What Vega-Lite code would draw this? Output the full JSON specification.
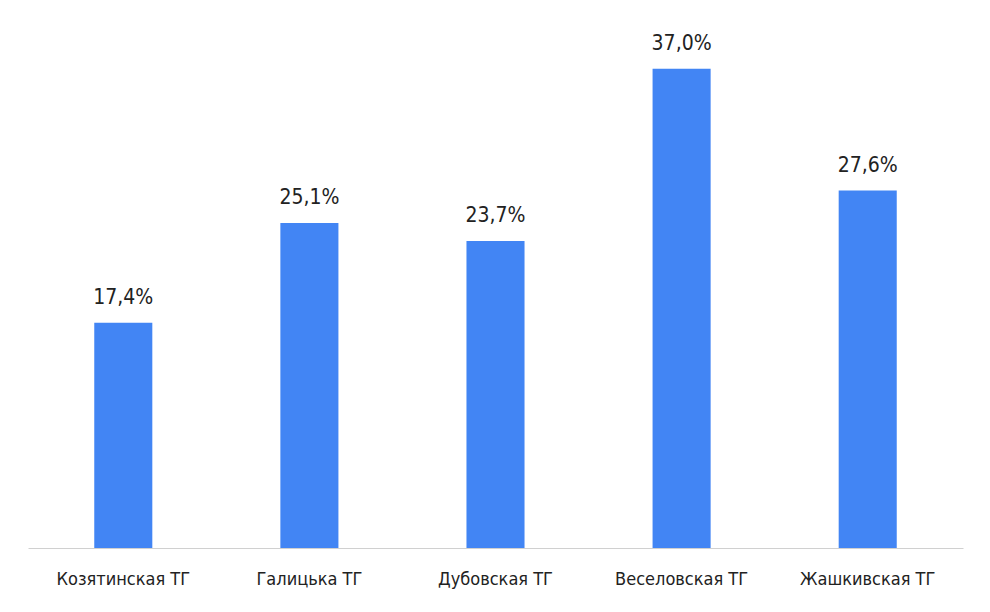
{
  "$schema": "https://vega.github.io/schema/vega-lite/v6.json",
  "width": 935,
  "height": 518,
  "autosize": "none",
  "padding": {"left": 28, "top": 30, "right": 27, "bottom": 64},
  "background": "white",
  "config": {
    "view": {"stroke": null},
    "font": "Liberation Sans Narrow, DejaVu Sans Condensed, sans-serif",
    "locale": {
      "number": {"decimal": ",", "thousands": " ", "grouping": [3], "currency": ["", ""]}
    }
  },
  "data": {
    "values": [
      {"community": "Козятинская ТГ", "share": 0.174},
      {"community": "Галицька ТГ", "share": 0.251},
      {"community": "Дубовская ТГ", "share": 0.237},
      {"community": "Веселовская ТГ", "share": 0.370},
      {"community": "Жашкивская ТГ", "share": 0.276}
    ]
  },
  "encoding": {
    "x": {
      "field": "community",
      "type": "nominal",
      "sort": null,
      "scale": {"paddingInner": 0.688, "paddingOuter": 0.356},
      "axis": {
        "title": null,
        "labelAngle": 0,
        "labelFontSize": 18,
        "labelColor": "#222222",
        "labelPadding": 22,
        "ticks": false,
        "domainColor": "#d0d0d0",
        "domainWidth": 1
      }
    },
    "y": {
      "field": "share",
      "type": "quantitative",
      "scale": {"domain": [0, 0.4], "nice": false},
      "axis": null
    }
  },
  "layer": [
    {
      "mark": {"type": "bar", "color": "#4285f4"}
    },
    {
      "mark": {
        "type": "text",
        "baseline": "bottom",
        "dy": -15,
        "fontSize": 21,
        "color": "#222222"
      },
      "encoding": {
        "text": {"field": "share", "type": "quantitative", "format": ".1%"}
      }
    }
  ]
}
